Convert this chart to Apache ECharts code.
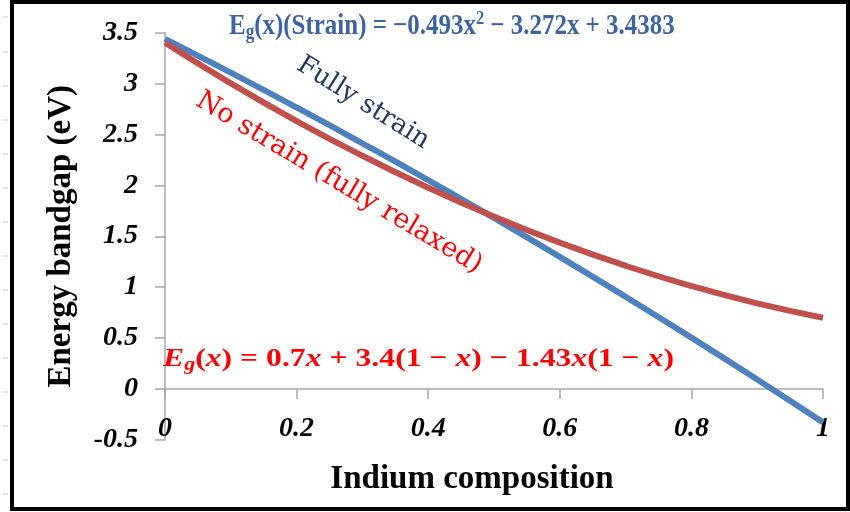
<!DOCTYPE html>
<html><head><meta charset="utf-8">
<script src="https://cdn.jsdelivr.net/npm/echarts@6/dist/echarts.min.js"></script>
<style>html,body{margin:0;padding:0;background:#fff}#c{width:850px;height:512px}</style>
</head><body><div id="c"></div>
<script>
// Indium composition x
var xValues = [0, 0.1, 0.2, 0.3, 0.4, 0.5, 0.6, 0.7, 0.8, 0.9, 1.0];
// Fully strain band gap (eV)
var strainValues = [3.438, 3.106, 2.764, 2.412, 2.051, 1.679, 1.298, 0.906, 0.505, 0.094, -0.327];
// No strain (fully relaxed) band gap (eV)
var relaxedValues = [3.400, 3.001, 2.631, 2.290, 1.977, 1.693, 1.437, 1.210, 1.011, 0.841, 0.700];
var xTicks = [0, 0.2, 0.4, 0.6, 0.8, 1];
var yTicks = [-0.5, 0, 0.5, 1, 1.5, 2, 2.5, 3, 3.5];

function pairs(xs, ys){ return xs.map(function(x,i){ return [x, ys[i]]; }); }

var chart = echarts.init(document.getElementById('c'), null, {renderer:'canvas'});
var tickFont = {fontFamily:'Liberation Serif', fontWeight:'bold', fontStyle:'italic', fontSize:28, color:'#000'};
var rulerMarks = [];
[17,52,86,120,154,188,222,256,290,324,358,392,426,460,494].forEach(function(y){
  rulerMarks.push({type:'line', shape:{x1:3,y1:y,x2:8,y2:y}, style:{stroke:'#c8c8c8', lineWidth:1}});
});
function fmt(list){ return function(v){ var r = Math.round(v*10)/10; return list.indexOf(r)>=0 ? String(r) : ''; }; }
var option = {
  animation:false,
  backgroundColor:'#fff',
  grid:{left:165, right:27, top:32.5, bottom:72, containLabel:false, outerBoundsMode:'none'},
  xAxis:{type:'value', min:0, max:1, interval:0.2,
    axisLine:{onZero:true, lineStyle:{color:'#a6a6a6', width:1.5}},
    axisTick:{show:true, inside:false, length:10, lineStyle:{color:'#a6a6a6', width:1.5}},
    splitLine:{show:false},
    axisLabel:Object.assign({margin:-25, formatter:fmt(xTicks)}, tickFont)
  },
  yAxis:{type:'value', min:-0.5, max:3.5, interval:0.5,
    axisLine:{show:true, onZero:false, lineStyle:{color:'#a6a6a6', width:1.5}},
    axisTick:{show:true, length:10, lineStyle:{color:'#a6a6a6', width:1.5}},
    splitLine:{show:false},
    axisLabel:Object.assign({margin:27, formatter:fmt(yTicks)}, tickFont),
    name:'Energy bandgap (eV)', nameLocation:'middle', nameGap:87, nameRotate:90,
    nameTextStyle:{fontFamily:'Liberation Serif', fontWeight:'bold', fontSize:33, color:'#000'}
  },
  series:[
    {type:'line', name:'Fully strain', data:pairs(xValues, strainValues), smooth:true, symbol:'none',
     lineStyle:{color:'#4f81bd', width:6}},
    {type:'line', name:'No strain', data:pairs(xValues, relaxedValues), smooth:true, symbol:'none',
     lineStyle:{color:'#c0504d', width:6}}
  ],
  graphic:[
    {type:'rect', shape:{x:12, y:2, width:836, height:507}, style:{fill:'none', stroke:'#000', lineWidth:4}, z:100},
    {type:'text', x:472, y:479, z:50, style:{text:'Indium composition', fontFamily:'Liberation Serif', fontWeight:'bold', fontSize:33, fill:'#000', align:'center', verticalAlign:'middle'}},
    {type:'text', x:229, y:10, z:50, scaleX:0.86, style:{
      text:'{a|E}{s|g}{a|(x)(Strain) = −0.493x}{p|2}{a| − 3.272x + 3.4383}',
      rich:{
        a:{fontFamily:'Liberation Serif', fontWeight:'bold', fontSize:29, fill:'#3b64a0', lineHeight:33, verticalAlign:'middle'},
        s:{fontFamily:'Liberation Serif', fontWeight:'bold', fontSize:20, fill:'#3b64a0', lineHeight:33, verticalAlign:'bottom', padding:[13,0,0,0]},
        p:{fontFamily:'Liberation Serif', fontWeight:'bold', fontSize:19, fill:'#3b64a0', lineHeight:33, verticalAlign:'top', padding:[0,0,10,0]}
      }}},
    {type:'text', x:163, y:344, z:50, scaleX:1.22, style:{
      text:'{i|E}{s|g}{a|(}{i|x}{a|) = 0.7}{i|x}{a| + 3.4(1 − }{i|x}{a|) − 1.43}{i|x}{a|(1 − }{i|x}{a|)}',
      rich:{
        a:{fontFamily:'Liberation Serif', fontWeight:'bold', fontSize:26, fill:'#ff0000', lineHeight:30, verticalAlign:'middle'},
        i:{fontFamily:'Liberation Serif', fontWeight:'bold', fontStyle:'italic', fontSize:26, fill:'#ff0000', lineHeight:30, verticalAlign:'middle'},
        s:{fontFamily:'Liberation Serif', fontWeight:'bold', fontStyle:'italic', fontSize:18, fill:'#ff0000', lineHeight:30, verticalAlign:'bottom', padding:[12,0,0,0]}
      }}},
    {type:'text', x:363, y:103, rotation:-0.56, z:50, style:{
      text:'Fully strain', fontFamily:'DejaVu Serif', fontSize:26, fill:'#203864', align:'center', verticalAlign:'middle'}},
    {type:'text', x:339, y:183, rotation:-0.54, z:50, style:{
      text:'No strain (fully relaxed)', fontFamily:'DejaVu Serif', fontSize:27, fill:'#ff0000', align:'center', verticalAlign:'middle'}}
  ].concat(rulerMarks)
};
chart.setOption(option);
</script></body></html>
